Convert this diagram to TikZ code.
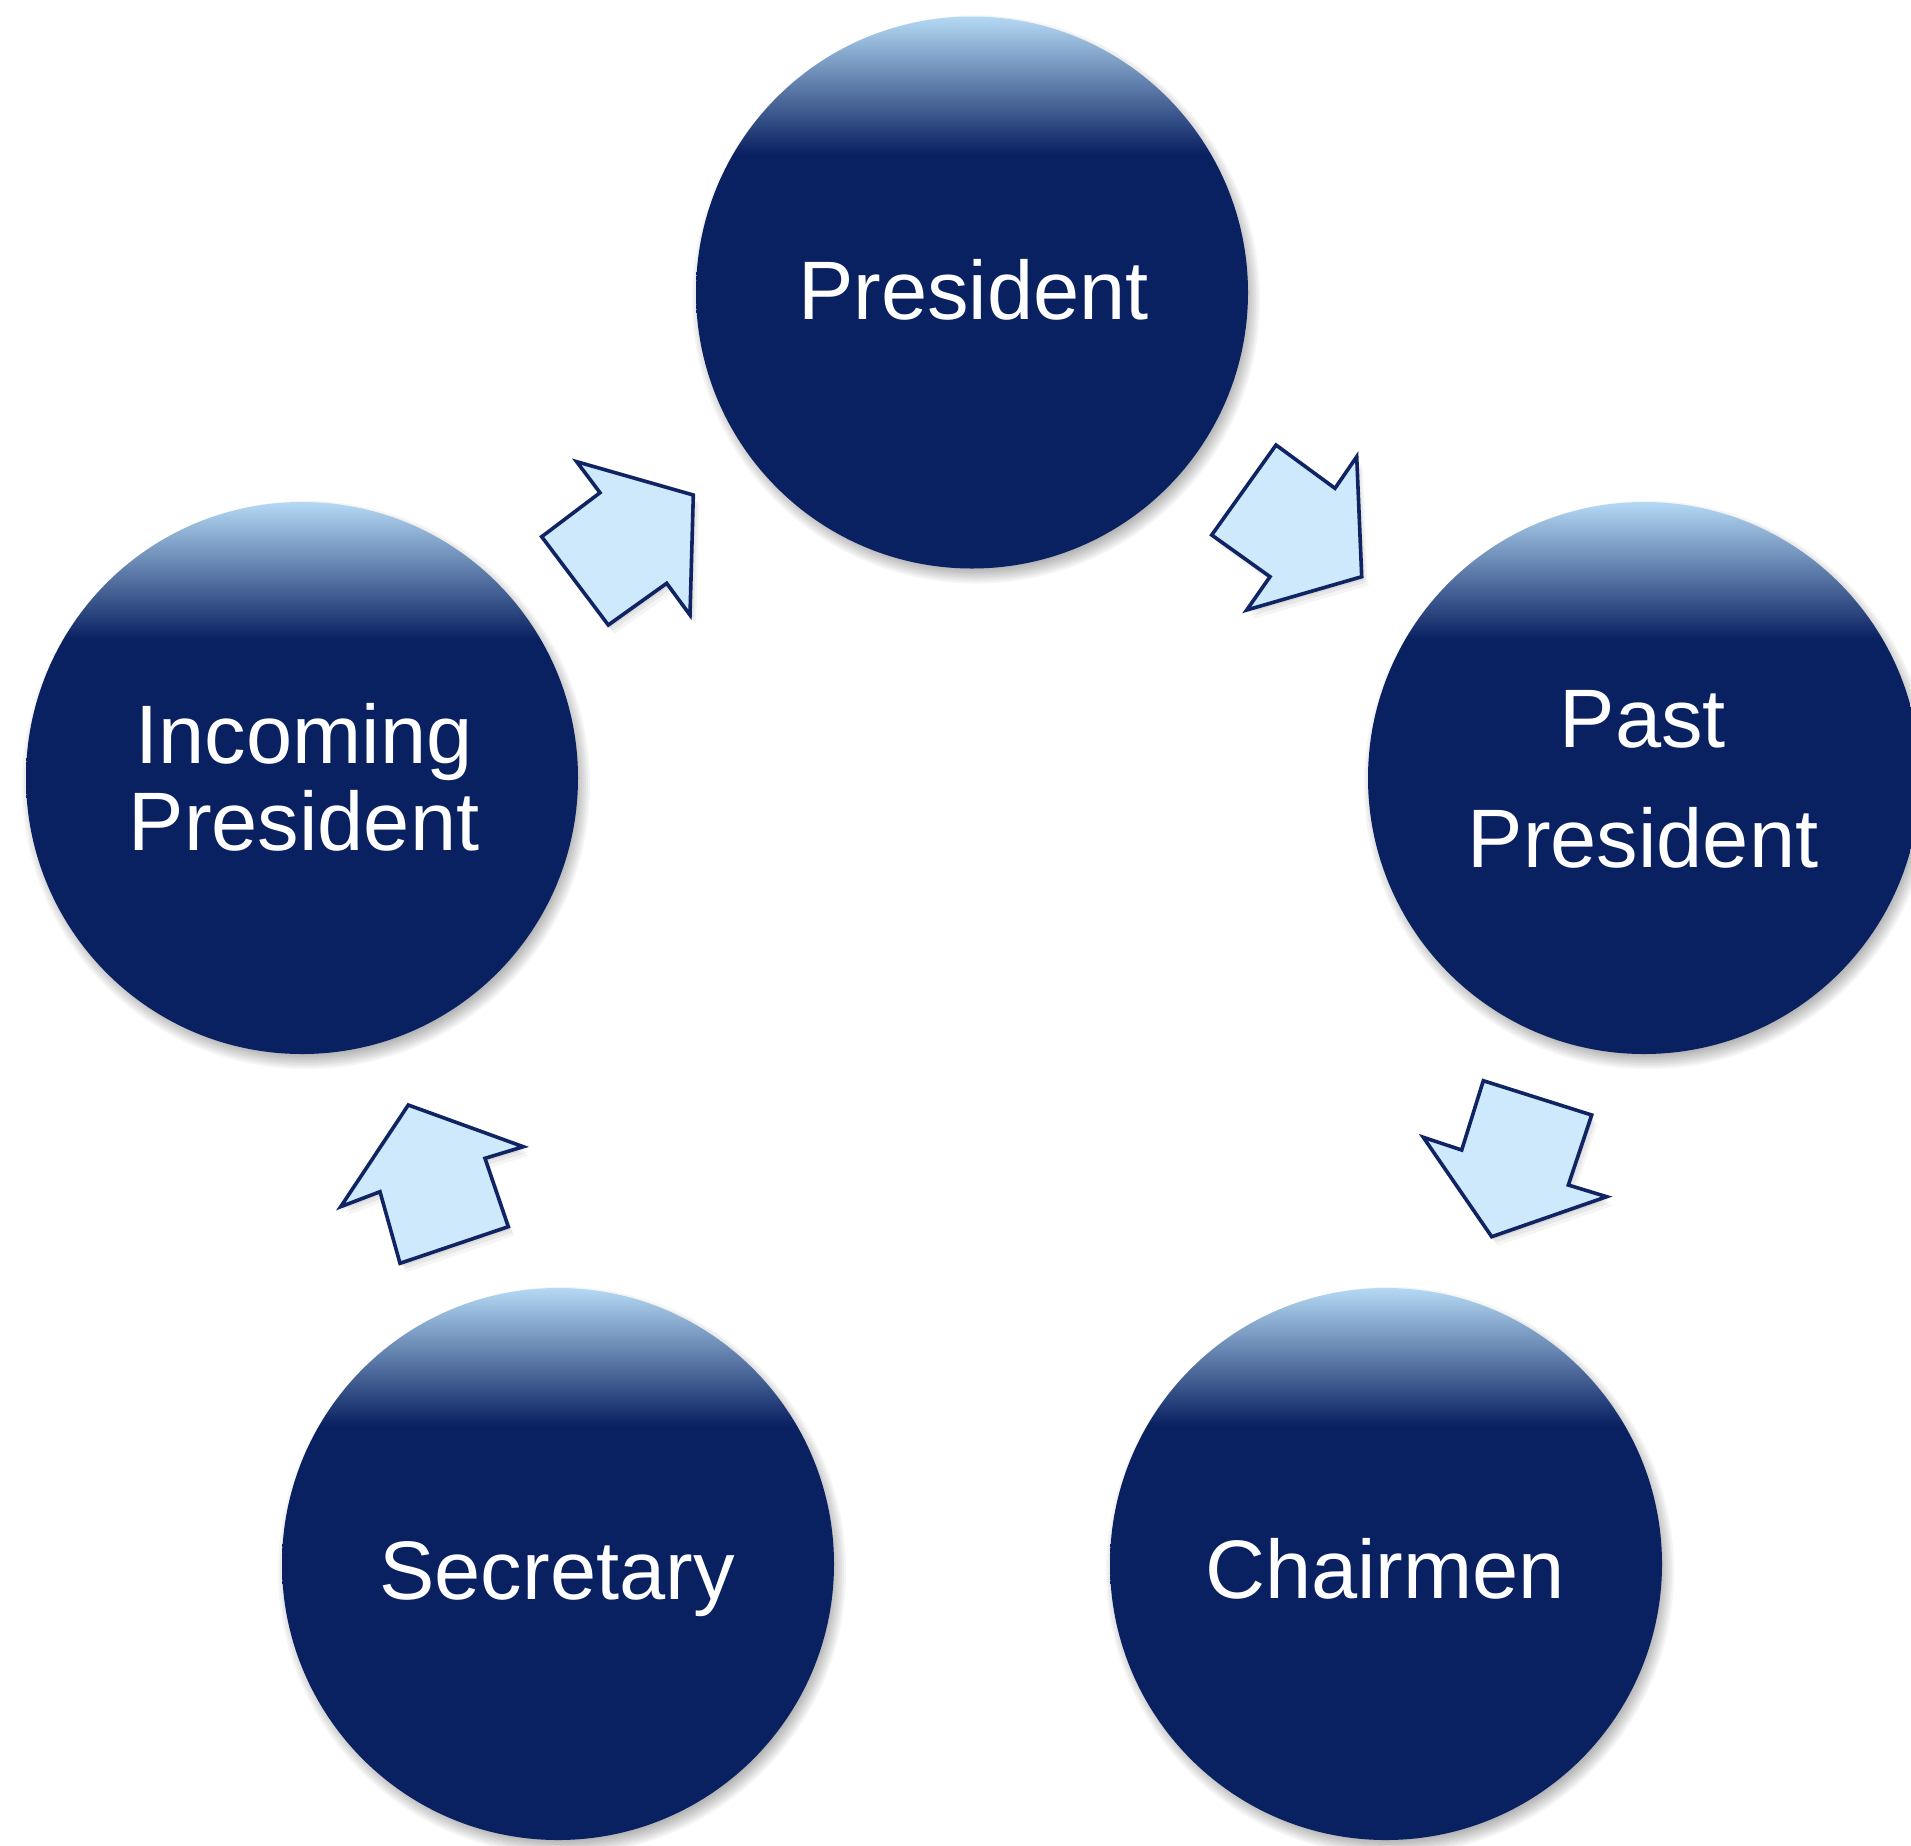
\documentclass[tikz,border=0pt]{standalone}
\usepackage{fontspec}
\setmainfont{Liberation Sans}
\definecolor{navyC}{RGB}{9,32,97}
\definecolor{topC}{RGB}{180,217,244}
\definecolor{arrowFill}{RGB}{205,233,251}
\definecolor{arrowLine}{RGB}{16,36,100}
\pgfdeclareverticalshading{ballshade}{100bp}{color(0bp)=(navyC); color(62.5bp)=(navyC); color(75bp)=(topC); color(100bp)=(topC)}
\tikzset{
  ball/.style={circle, minimum size=552pt, inner sep=0pt, draw=none, shading=ballshade},
  lbl/.style={text=white, font=\fontsize{83}{99}\selectfont, inner sep=0pt, anchor=base},
  blockarrow/.style={fill=arrowFill, draw=arrowLine, line width=3.6pt, line join=miter},
  softshade/.style={fill=black, opacity=0.04},
}
\newcommand{\ballshadow}[1]{%
  \foreach \k [evaluate=\k as \rr using 268+2*\k] in {1,...,8}{%
    \fill[softshade, shift={(4,7)}] #1 circle[radius=\rr pt];}}
\newcommand{\blockarr}[1]{%
  \fill[black, opacity=0.06, shift={(2,3)}] #1;
  \fill[black, opacity=0.05, shift={(4,6)}] #1;
  \fill[black, opacity=0.04, shift={(6,9)}] #1;
  \draw[blockarrow] #1;}
\begin{document}
\begin{tikzpicture}[x=1pt,y=-1pt]
\useasboundingbox (0,0) rectangle (1911,1845);
\fill[white] (0,0) rectangle (1911,1845);

% shadows
\ballshadow{(972,292.5)}
\ballshadow{(1644,778)}
\ballshadow{(1386,1564)}
\ballshadow{(558,1564)}
\ballshadow{(302,778)}

% circles
\node[ball] (pres)  at (972,292.5) {};
\node[ball] (past)  at (1644,778) {};
\node[ball] (chair) at (1386,1564) {};
\node[ball] (sec)   at (558,1564) {};
\node[ball] (inc)   at (302,778) {};

% labels
\node[lbl] (presT)  at (973.5,319) {President};
\node[lbl] (pastT1) at (1643,747.5) {Past};
\node[lbl] (pastT2) at (1643,867.5) {President};
\node[lbl] (chairT) at (1385,1598) {Chairmen};
\node[lbl] (secT)   at (557,1599) {Secretary};
\node[lbl] (incT1)  at (304,763) {Incoming};
\node[lbl] (incT2)  at (304,850) {President};

% block arrows
\blockarr{(576.7,461.7) -- (600,492.7) -- (541.7,536.7) -- (608.3,625) -- (666.7,583.3) -- (690,615) -- (693.3,495) -- cycle}
\blockarr{(1276,445) -- (1335,488.3) -- (1356.7,456.7) -- (1361.7,576.7) -- (1246.7,610) -- (1270,576.7) -- (1211.7,535) -- cycle}
\blockarr{(1483.3,1080.7) -- (1591.7,1115) -- (1568.3,1185) -- (1606.7,1196.7) -- (1491.7,1236.7) -- (1423.3,1137.3) -- (1461.7,1150) -- cycle}
\blockarr{(408.3,1105) -- (523.3,1146.7) -- (485,1158.3) -- (508.3,1226.7) -- (400,1263.3) -- (380,1191.7) -- (340.7,1206.7) -- cycle}
\end{tikzpicture}
\end{document}
